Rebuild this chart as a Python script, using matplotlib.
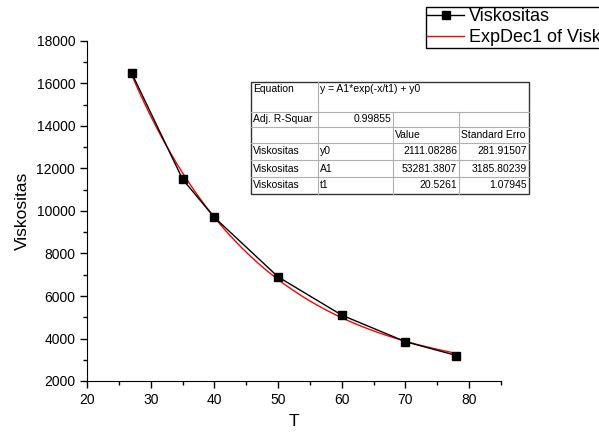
import numpy as np
import matplotlib.pyplot as plt
from matplotlib.lines import Line2D
from matplotlib.patches import Rectangle

plt.rcParams['font.family'] = ['Liberation Sans', 'DejaVu Sans']

# data points
T = [27, 35, 40, 50, 60, 70, 78]
visk = [16500, 11500, 9700, 6900, 5100, 3850, 3200]

# fit parameters (ExpDec1) as shown in the table
y0 = 2111.08286
A1 = 53281.3807
t1 = 20.5261
adj_r2 = 0.99855

fig = plt.figure(figsize=(5.99, 4.32), dpi=100)
ax = fig.add_axes([87 / 599, 51 / 432, 414 / 599, 340 / 432])

xf = np.linspace(min(T), max(T), 200)
yf = A1 * np.exp(-xf / t1) + y0
ax.plot(T, visk, color='black', lw=1, marker='s', ms=6, mfc='black', mec='black', zorder=3)
ax.plot(xf, yf, color='red', lw=1, zorder=2)

ax.set_xlim(20, 85)
ax.set_ylim(2000, 18000)
ax.set_xticks(range(20, 81, 10))
ax.set_xticks(range(25, 86, 10), minor=True)
ax.set_yticks(range(2000, 18001, 2000))
ax.set_yticks(range(3000, 18000, 2000), minor=True)
for s in ['top', 'right']:
    ax.spines[s].set_visible(False)
ax.tick_params(which='major', direction='out', length=5, labelsize=10, width=1)
ax.tick_params(which='minor', direction='out', length=3, width=1)
ax.set_xlabel('T', fontsize=12.5, labelpad=5)
ax.set_ylabel('Viskositas', fontsize=12.5, labelpad=5)

# legend (partly cut by the right edge as in the original)
handles = [Line2D([], [], color='black', lw=1, marker='s', ms=6),
           Line2D([], [], color='red', lw=1)]
fig.legend(handles, ['Viskositas', 'ExpDec1 of Viskositas'], loc='upper left',
           bbox_to_anchor=(426 / 599, 1 - 7 / 432), fontsize=13, frameon=True,
           fancybox=False, edgecolor='black', framealpha=1, borderpad=0.08,
           handlelength=2.0, handletextpad=0.3, labelspacing=0.2, borderaxespad=0)

# fit result table drawn in pixel coordinates
tb = fig.add_axes([0, 0, 1, 1])
tb.set_xlim(0, 599)
tb.set_ylim(432, 0)
tb.axis('off')

cols = [251, 318, 393, 459, 529]
rows = [82, 112, 127, 143, 160, 177, 194]
tb.add_patch(Rectangle((cols[0], rows[0]), cols[-1] - cols[0], rows[-1] - rows[0],
                       facecolor='white', edgecolor='none'))
grey = '#b0b0b0'
for r in rows[1:-1]:
    tb.plot([cols[0], cols[-1]], [r, r], color=grey, lw=0.8)
tb.plot([cols[1], cols[1]], [rows[0], rows[-1]], color=grey, lw=0.8)
for c in cols[2:4]:
    tb.plot([c, c], [rows[1], rows[-1]], color=grey, lw=0.8)
tb.add_patch(Rectangle((cols[0], rows[0]), cols[-1] - cols[0], rows[-1] - rows[0],
                       facecolor='none', edgecolor='#333333', lw=1))

fs = 7.5
pad = 2


def cell(txt, r, c, align='left', top=False):
    yy = rows[r] + 7 if top else (rows[r] + rows[r + 1]) / 2
    if align == 'left':
        tb.text(cols[c] + pad, yy, txt, fontsize=fs, ha='left', va='center')
    else:
        tb.text(cols[c + 1] - pad, yy, txt, fontsize=fs, ha='right', va='center')


cell('Equation', 0, 0, top=True)
cell('y = A1*exp(-x/t1) + y0', 0, 1, top=True)
cell('Adj. R-Squar', 1, 0)
cell(f'{adj_r2:.5f}', 1, 1, 'right')
cell('Value', 2, 2)
cell('Standard Erro', 2, 3)
names = ['y0', 'A1', 't1']
vals = ['2111.08286', '53281.3807', '20.5261']
errs = ['281.91507', '3185.80239', '1.07945']
for i in range(3):
    cell('Viskositas', 3 + i, 0)
    cell(names[i], 3 + i, 1)
    cell(vals[i], 3 + i, 2, 'right')
    cell(errs[i], 3 + i, 3, 'right')

fig.savefig('out.png', dpi=100)
